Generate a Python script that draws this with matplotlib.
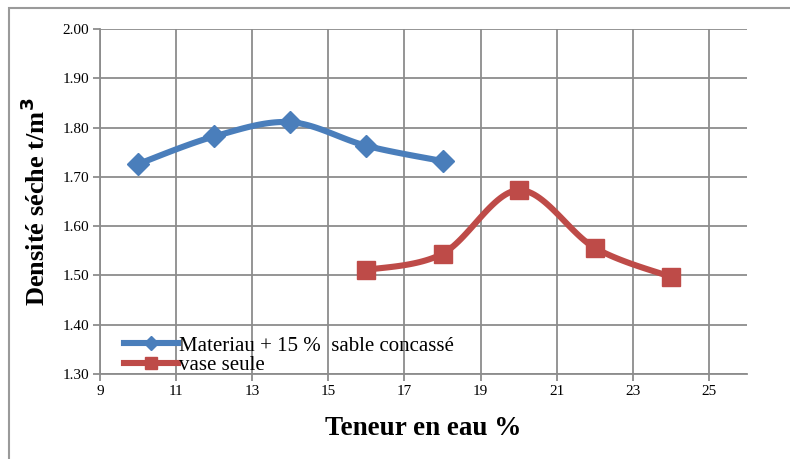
import numpy as np
import matplotlib
matplotlib.use("Agg")
import matplotlib.pyplot as plt
from matplotlib.patches import Rectangle

plt.rcParams['font.family'] = ['Liberation Serif', 'DejaVu Serif']

# Water content (%) and dry density (t/m3)
x_mix = [10, 12, 14, 16, 18]
y_mix = [1.726, 1.782, 1.811, 1.763, 1.732]
x_vase = [16, 18, 20, 22, 24]
y_vase = [1.511, 1.544, 1.673, 1.556, 1.497]

label_mix = "Materiau + 15 %  sable concassé"
label_vase = "vase seule"
x_ticks = [9, 11, 13, 15, 17, 19, 21, 23, 25]
y_ticks = [1.30, 1.40, 1.50, 1.60, 1.70, 1.80, 1.90, 2.00]


def smooth(xs, ys, n=30):
    """Cubic Bezier curve through the points (Catmull-Rom style tangents)."""
    p = np.column_stack([xs, ys]).astype(float)
    pts = np.vstack([p[0], p, p[-1]])
    out = []
    for i in range(1, len(pts) - 2):
        p0, p1, p2, p3 = pts[i - 1], pts[i], pts[i + 1], pts[i + 2]
        c1 = p1 + (p2 - p0) / 6.0
        c2 = p2 - (p3 - p1) / 6.0
        t = np.linspace(0, 1, n)[:, None]
        seg = ((1 - t) ** 3) * p1 + 3 * ((1 - t) ** 2) * t * c1 \
            + 3 * (1 - t) * t ** 2 * c2 + t ** 3 * p2
        out.append(seg if i == 1 else seg[1:])
    c = np.vstack(out)
    return c[:, 0], c[:, 1]


blue = '#4A7EBB'
red = '#BE4B48'
grid_c = '#8C8C8C'

fig = plt.figure(figsize=(7.9, 4.59), dpi=100)
# outer chart frame
fig.patches.append(Rectangle((9 / 790, -0.1), 1.2, 1 - 8 / 459 + 0.1,
                             transform=fig.transFigure, fill=False,
                             edgecolor='#9A9A9A', linewidth=1.5))

ax = fig.add_axes([100 / 790, 1 - 374 / 459, 647 / 790, 345 / 459])
ax.set_xlim(9, 26)
ax.set_ylim(1.30, 2.00)
ax.set_xticks(x_ticks)
ax.set_yticks(y_ticks)
ax.set_yticklabels([f"{v:.2f}" for v in y_ticks])
ax.grid(True, color=grid_c, linewidth=1.3)
ax.set_axisbelow(True)
for s in ['top', 'right']:
    ax.spines[s].set_visible(False)
for s in ['left', 'bottom']:
    ax.spines[s].set_color(grid_c)
    ax.spines[s].set_linewidth(1.3)
ax.tick_params(axis='both', direction='out', length=5, width=1.3,
               color=grid_c, labelsize=11, pad=3)

sx, sy = smooth(x_mix, y_mix)
ax.plot(sx, sy, color=blue, linewidth=4.4, solid_capstyle='round', zorder=3)
ax.plot(x_mix, y_mix, linestyle='none', marker='D', markersize=11,
        color=blue, zorder=4)
sx, sy = smooth(x_vase, y_vase)
ax.plot(sx, sy, color=red, linewidth=4.4, solid_capstyle='round', zorder=3)
ax.plot(x_vase, y_vase, linestyle='none', marker='s', markersize=13,
        color=red, zorder=4)

h1, = ax.plot([], [], color=blue, linewidth=4.4, marker='D', markersize=7)
h2, = ax.plot([], [], color=red, linewidth=4.4, marker='s', markersize=9)
leg = ax.legend([h1, h2], [label_mix, label_vase], loc='lower left',
                bbox_to_anchor=(0.024, -0.028), frameon=False, fontsize=15,
                handlelength=2.6, handletextpad=0.05, labelspacing=0.0,
                borderaxespad=0)

ax.set_xlabel("Teneur en eau %", fontsize=19.5, fontweight='bold', labelpad=13)
ax.set_ylabel("Densité séche t/m$^\\mathbf{3}$", fontsize=19,
              fontweight='bold', labelpad=9)

fig.savefig("out.png", dpi=100)
